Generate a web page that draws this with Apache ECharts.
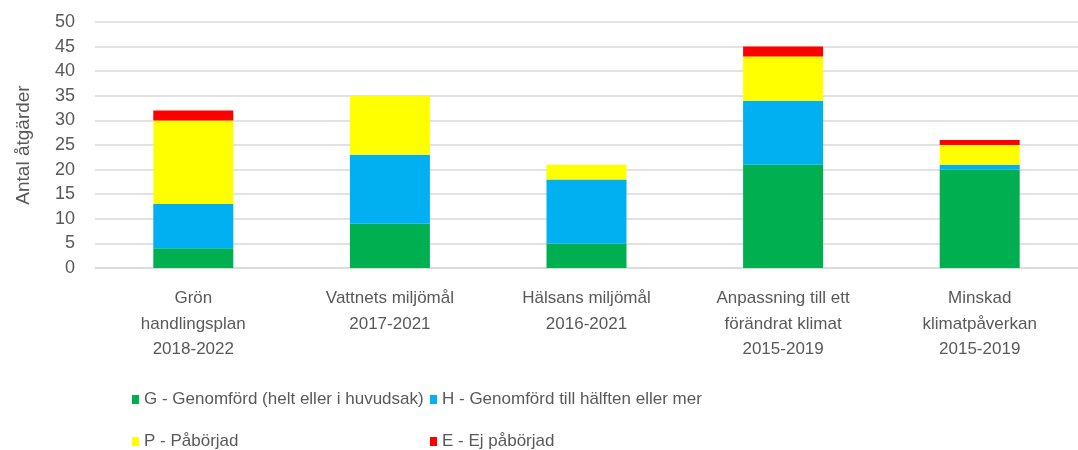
<!DOCTYPE html>
<html><head><meta charset="utf-8">
<script src="https://cdn.jsdelivr.net/npm/echarts@6/dist/echarts.min.js"></script>
<style>html,body{margin:0;padding:0;background:#fff}#c{width:1078px;height:450px}</style>
</head><body><div id="c"></div>
<script>
const categories = ["Grön\nhandlingsplan\n2018-2022","Vattnets miljömål\n2017-2021","Hälsans miljömål\n2016-2021","Anpassning till ett\nförändrat klimat\n2015-2019","Minskad\nklimatpåverkan\n2015-2019"];
const seriesNames = ["G - Genomförd (helt eller i huvudsak)","H - Genomförd till hälften eller mer","P - Påbörjad","E - Ej påbörjad"];
const G = [4, 9, 5, 21, 20];
const H = [9, 14, 13, 13, 1];
const P = [17, 12, 3, 9, 4];
const E = [2, 0, 0, 2, 1];
const yTicks = {min: 0, max: 50, interval: 5};
const colors = ["#00B050","#00B0F0","#FFFF00","#FF0000"];
const font = "'Liberation Sans',Arial,sans-serif";
const txt = "#595959";
const values = [G, H, P, E];
const legendFont = 17;
// measure first legend column to place second column right after it
const cv = document.createElement('canvas').getContext('2d');
cv.font = legendFont + "px " + font;
const col1Left = 127;
const col2Left = Math.round(col1Left + 7 + 5 + cv.measureText(seriesNames[0]).width + 6);
function leg(name, left, top) {
  return {data: [name], left: left, top: top, icon: 'rect', itemWidth: 7, itemHeight: 9,
    textStyle: {fontFamily: font, fontSize: legendFont, color: txt}};
}
const chart = echarts.init(document.getElementById('c'), null, {renderer:'canvas'});
chart.setOption({
  animation: false,
  textStyle: {fontFamily: font, color: txt},
  grid: {left: 95, top: 22, width: 995, height: 246, containLabel: false},
  legend: [
    leg(seriesNames[0], col1Left, 386),
    leg(seriesNames[1], col2Left, 386),
    leg(seriesNames[2], col1Left, 428),
    leg(seriesNames[3], col2Left, 428)
  ],
  xAxis: {type: 'category', data: categories,
    axisLine: {show: true, lineStyle: {color: '#D9D9D9', width: 1.5}},
    axisTick: {show: false},
    axisLabel: {interval: 0, margin: 18, fontSize: 17, lineHeight: 25.5, color: txt, fontFamily: font}},
  yAxis: {type: 'value', min: yTicks.min, max: yTicks.max, interval: yTicks.interval,
    name: 'Antal åtgärder', nameLocation: 'middle', nameGap: 62, nameRotate: 90,
    nameTextStyle: {fontSize: 19, color: txt, fontFamily: font},
    axisLine: {show: false}, axisTick: {show: false},
    axisLabel: {margin: 20, fontSize: 18, color: txt, fontFamily: font},
    splitLine: {lineStyle: {color: '#D9D9D9', width: 1.5}}},
  series: seriesNames.map((n, i) => ({
    name: n, type: 'bar', stack: 'total', barWidth: 80,
    itemStyle: {color: colors[i]}, data: values[i]
  }))
});
</script></body></html>
